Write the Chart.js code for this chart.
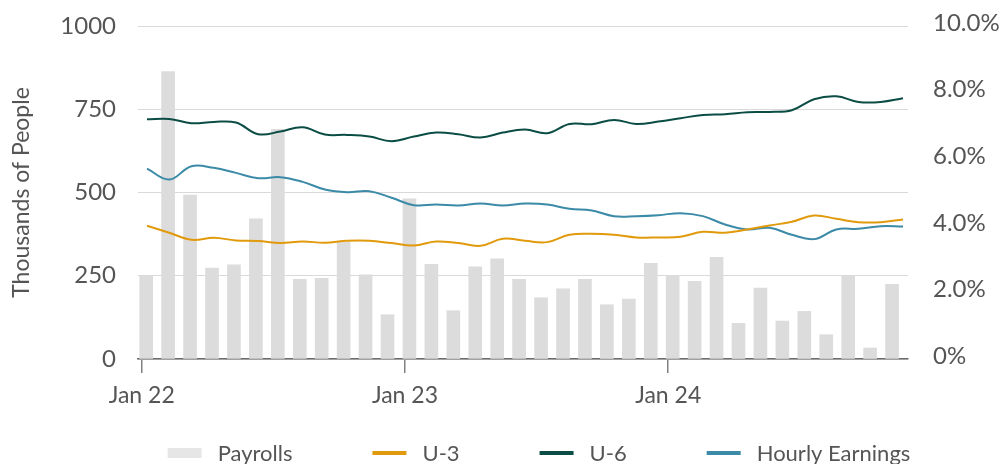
<!DOCTYPE html>
<html>
<head>
<meta charset="utf-8">
<script src="https://cdn.jsdelivr.net/npm/chart.js@4.4.1/dist/chart.umd.min.js"></script>
<style>
  html, body { margin: 0; padding: 0; background: #fff; }
  #wrap { width: 1005px; height: 464px; }
</style>
</head>
<body>
<div id="wrap"><canvas id="jobsChart"></canvas></div>
<script>
// Datos mensuales Jan 22 - Nov 24
const months = ['Jan 22','Feb 22','Mar 22','Apr 22','May 22','Jun 22','Jul 22','Aug 22','Sep 22','Oct 22','Nov 22','Dec 22',
                'Jan 23','Feb 23','Mar 23','Apr 23','May 23','Jun 23','Jul 23','Aug 23','Sep 23','Oct 23','Nov 23','Dec 23',
                'Jan 24','Feb 24','Mar 24','Apr 24','May 24','Jun 24','Jul 24','Aug 24','Sep 24','Oct 24','Nov 24'];
const payrolls = [248, 863, 492, 273, 283, 421, 690, 239, 242, 350, 253, 133,
                  481, 284, 145, 277, 301, 239, 184, 211, 239, 163, 180, 287,
                  251, 233, 305, 107, 213, 114, 143, 73, 249, 33, 224];
const u3 = [4.00, 3.79, 3.58, 3.64, 3.56, 3.54, 3.48, 3.53, 3.49, 3.55, 3.55, 3.48,
            3.41, 3.53, 3.48, 3.40, 3.61, 3.55, 3.51, 3.73, 3.76, 3.73, 3.65, 3.65,
            3.67, 3.82, 3.79, 3.89, 4.01, 4.12, 4.31, 4.21, 4.11, 4.11, 4.19];
const u6 = [7.20, 7.21, 7.08, 7.12, 7.10, 6.75, 6.83, 6.96, 6.74, 6.73, 6.68, 6.54,
            6.68, 6.80, 6.75, 6.65, 6.80, 6.89, 6.78, 7.06, 7.05, 7.18, 7.06, 7.13,
            7.23, 7.33, 7.35, 7.41, 7.42, 7.47, 7.80, 7.89, 7.72, 7.72, 7.83];
const hourly = [5.72, 5.39, 5.79, 5.74, 5.59, 5.43, 5.46, 5.32, 5.09, 5.01, 5.04, 4.84,
                4.62, 4.64, 4.61, 4.67, 4.61, 4.67, 4.64, 4.51, 4.46, 4.29, 4.29, 4.32,
                4.38, 4.29, 4.04, 3.89, 3.94, 3.73, 3.60, 3.89, 3.91, 3.99, 3.98];
const xTickLabels = ['Jan 22', 'Jan 23', 'Jan 24'];

const FONT = 'Lato, sans-serif';
const TXT = '#555555';

// leyenda dibujada a mano (espaciado amplio como en el original)
const bottomLegend = {
    id: 'bottomLegend',
    afterDraw(chart) {
        const ctx = chart.ctx;
        const items = chart.data.datasets.map(ds => ({
            text: ds.label,
            color: ds.legendColor || ds.borderColor,
            isBar: ds.type !== 'line'
        }));
        ctx.save();
        ctx.font = '22px ' + FONT;
        ctx.textBaseline = 'middle';
        const boxW = 34, gap = 16, spacing = 80, y = 453;
        const widths = items.map(it => boxW + gap + ctx.measureText(it.text).width);
        const total = widths.reduce((a, b) => a + b, 0) + spacing * (items.length - 1);
        let x = 539 - total / 2;
        items.forEach((it, i) => {
            if (it.isBar) {
                ctx.fillStyle = it.color;
                ctx.fillRect(x, y - 5, boxW, 10);
            } else {
                ctx.strokeStyle = it.color;
                ctx.lineWidth = 4;
                ctx.beginPath();
                ctx.moveTo(x, y);
                ctx.lineTo(x + boxW, y);
                ctx.stroke();
            }
            ctx.fillStyle = TXT;
            ctx.fillText(it.text, x + boxW + gap, y + 1);
            x += widths[i] + spacing;
        });
        ctx.restore();
    }
};

const lineDs = (label, values, color) => ({
    type: 'line',
    label: label,
    data: values.map((v, i) => ({ x: i, y: v })),
    xAxisID: 'x2',
    yAxisID: 'yR',
    borderColor: color,
    borderWidth: 2,
    pointRadius: 0,
    tension: 0.4,
    fill: false,
    order: 1
});

new Chart(document.getElementById('jobsChart'), {
    type: 'bar',
    data: {
        datasets: [
            {
                label: 'Payrolls',
                data: payrolls.map((v, i) => ({ x: i + 0.5, y: v })),
                backgroundColor: '#dcdcdc',
                legendColor: '#e6e6e6',
                barThickness: 13,
                xAxisID: 'x',
                yAxisID: 'y',
                order: 2
            },
            lineDs('U-3', u3, '#e19a0c'),
            lineDs('U-6', u6, '#0b4d45'),
            lineDs('Hourly Earnings', hourly, '#3b8aa8')
        ]
    },
    options: {
        responsive: true,
        maintainAspectRatio: false,
        animation: false,
        layout: { padding: { top: 26, bottom: 55, left: 0, right: 0 } },
        plugins: {
            legend: { display: false },
            tooltip: { enabled: false }
        },
        scales: {
            x: {
                type: 'linear',
                offset: false,
                min: -0.17,
                max: 34.93,
                afterBuildTicks: s => { s.ticks = [0, 12, 24].map(v => ({ value: v })); },
                afterFit: s => { s.height = 50; },
                ticks: {
                    callback: v => xTickLabels[v / 12],
                    font: { family: FONT, size: 23 },
                    color: TXT,
                    padding: 9,
                    maxRotation: 0,
                    autoSkip: false
                },
                grid: { offset: false, drawOnChartArea: false, tickLength: 14, color: '#808080', lineWidth: 1.5 },
                border: { color: '#6b6b6b', width: 1.5 }
            },
            x2: { type: 'linear', display: false, offset: false, grid: { offset: false }, min: -0.405, max: 34.225 },
            y: {
                position: 'left',
                min: 0,
                max: 1000,
                afterFit: s => { s.width = 138; },
                ticks: {
                    stepSize: 250,
                    padding: 0,
                    font: { family: FONT, size: 24 },
                    color: TXT,
                    callback: v => String(v)
                },
                // marcas invisibles: separan las etiquetas sin inflar el margen superior
                grid: { color: '#d9d9d9', tickColor: 'rgba(0,0,0,0)', tickLength: 22 },
                border: { display: false },
                title: {
                    display: true,
                    text: 'Thousands of People',
                    font: { family: FONT, size: 23 },
                    color: TXT,
                    padding: { top: 8, bottom: 0 }
                }
            },
            yR: {
                position: 'right',
                min: 0,
                max: 10,
                afterFit: s => { s.width = 97; },
                ticks: {
                    stepSize: 2,
                    padding: 0,
                    labelOffset: -3,
                    font: { family: FONT, size: 24 },
                    color: TXT,
                    callback: v => v === 0 ? '0%' : v.toFixed(1) + '%'
                },
                grid: { drawOnChartArea: false, tickColor: 'rgba(0,0,0,0)', tickLength: 25 },
                border: { display: false }
            }
        }
    },
    plugins: [bottomLegend]
});
</script>
</body>
</html>
